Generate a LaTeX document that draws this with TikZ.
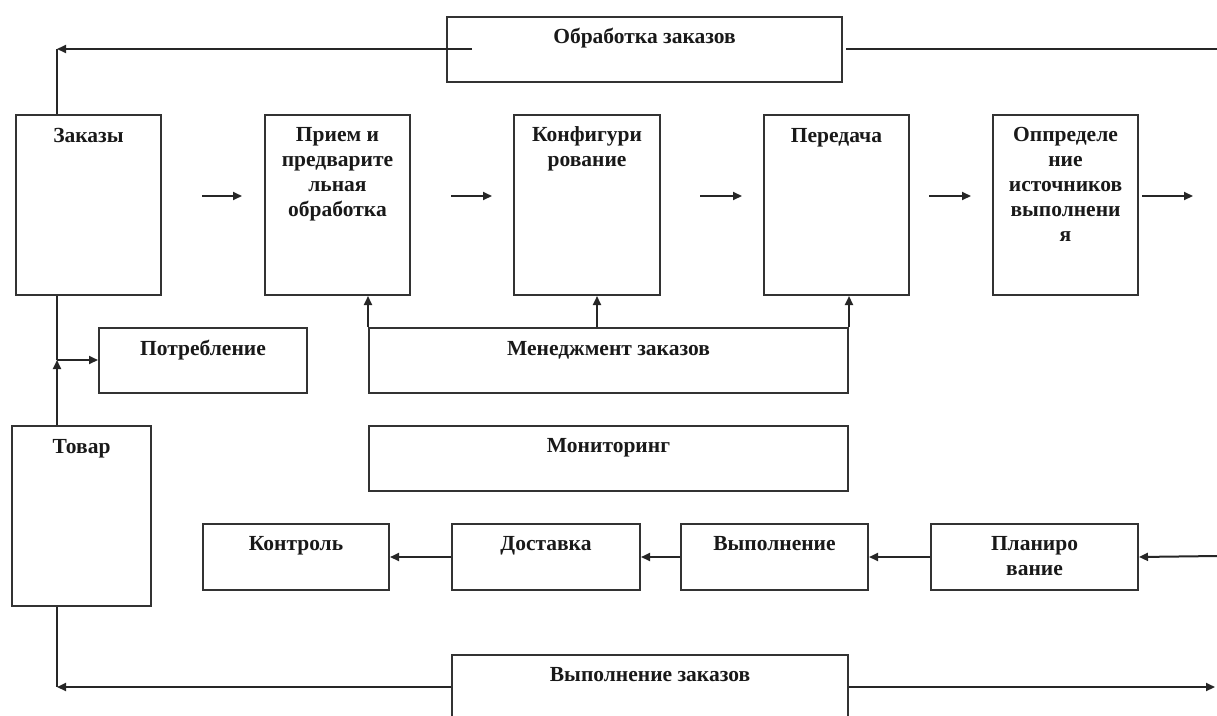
\documentclass[tikz,border=0pt]{standalone}
\usepackage{fontspec}
\setmainfont{Liberation Serif}
\usetikzlibrary{arrows.meta,calc}
\begin{document}
\begin{tikzpicture}[x=1pt,y=-1pt,
  box/.style={draw=black!80, line width=2pt, rectangle, inner sep=0pt, anchor=north west},
  lbl/.style={anchor=north, inner sep=0pt, align=center, text=black!90,
    font=\fontsize{21.5}{25}\selectfont\bfseries},
  conn/.style={draw=black!85, line width=2pt},
  arr/.style={conn, -{Triangle[length=9pt,width=8pt]}}]
\useasboundingbox (0,0) rectangle (1217,715);
\clip (0,0) rectangle (1217,715);
% boxes
\node[box, minimum width=395, minimum height=65] (obr) at (446,16) {};
\node[box, minimum width=145, minimum height=180] (zak) at (15,114) {};
\node[box, minimum width=145, minimum height=180] (prm) at (264,114) {};
\node[box, minimum width=146, minimum height=180] (kon) at (513,114) {};
\node[box, minimum width=145, minimum height=180] (per) at (763,114) {};
\node[box, minimum width=145, minimum height=180] (opr) at (992,114) {};
\node[box, minimum width=208, minimum height=65] (pot) at (98,327) {};
\node[box, minimum width=479, minimum height=65] (men) at (368,327) {};
\node[box, minimum width=139, minimum height=180] (tov) at (11,425) {};
\node[box, minimum width=479, minimum height=65] (mon) at (368,425) {};
\node[box, minimum width=186, minimum height=66] (ktr) at (202,523) {};
\node[box, minimum width=188, minimum height=66] (dos) at (451,523) {};
\node[box, minimum width=187, minimum height=66] (vyp) at (680,523) {};
\node[box, minimum width=207, minimum height=66] (pln) at (930,523) {};
\node[box, minimum width=396, minimum height=90] (vz) at (451,654) {};
% labels
\node[lbl] (t-obr) at ([yshift=-9.5pt]obr.north) {\strut Обработка заказов};
\node[lbl] (t-zak) at ([yshift=-11pt]zak.north) {\strut Заказы};
\node[lbl] (t-prm) at ([yshift=-10pt]prm.north) {\strut Прием и\\предварите\\льная\\обработка};
\node[lbl] (t-kon) at ([yshift=-10pt]kon.north) {\strut Конфигури\\рование};
\node[lbl] (t-per) at ([yshift=-11pt]per.north) {\strut Передача};
\node[lbl] (t-opr) at ([yshift=-10pt]opr.north) {\strut Оппределе\\ние\\источников\\выполнени\\я};
\node[lbl] (t-pot) at ([yshift=-10.5pt]pot.north) {\strut Потребление};
\node[lbl] (t-men) at ([yshift=-10.5pt]men.north) {\strut Менеджмент заказов};
\node[lbl] (t-tov) at ([yshift=-10.5pt]tov.north) {\strut Товар};
\node[lbl] (t-mon) at ([yshift=-9.5pt]mon.north) {\strut Мониторинг};
\node[lbl] (t-ktr) at ([yshift=-10pt]ktr.north) {\strut Контроль};
\node[lbl] (t-dos) at ([yshift=-10pt]dos.north) {\strut Доставка};
\node[lbl] (t-vyp) at ([yshift=-10pt]vyp.north) {\strut Выполнение};
\node[lbl] (t-pln) at ([yshift=-10pt]pln.north) {\strut Планиро\\вание};
\node[lbl] (t-vz) at ([yshift=-10pt]vz.north) {\strut Выполнение заказов};
% coordinates
\coordinate (obrL) at (472,49);
\coordinate (cTL) at (57,49);
\coordinate (obrR) at (846,49);
\coordinate (eTR) at (1217,49);
\coordinate (a1s) at (202,196); \coordinate (a1e) at (242,196);
\coordinate (a2s) at (451,196); \coordinate (a2e) at (492,196);
\coordinate (a3s) at (700,196); \coordinate (a3e) at (742,196);
\coordinate (a4s) at (929,196); \coordinate (a4e) at (971,196);
\coordinate (a5s) at (1142,196); \coordinate (a5e) at (1193,196);
\coordinate (mk) at (597,327);
\coordinate (j) at (57,360);
\coordinate (eR) at (1217,556);
\coordinate (cb) at (57,687);
\coordinate (eBR) at (1215,687);
% connectors
\draw[arr] (obrL) -- (cTL);
\draw[conn] (cTL) -- (cTL |- zak.north);
\draw[conn] (obrR) -- (eTR);
\draw[arr] (a1s) -- (a1e);
\draw[arr] (a2s) -- (a2e);
\draw[arr] (a3s) -- (a3e);
\draw[arr] (a4s) -- (a4e);
\draw[arr] (a5s) -- (a5e);
\draw[arr] (men.north west) -- (men.north west |- prm.south);
\draw[arr] (mk) -- (mk |- kon.south);
\draw[arr] (men.north east) -- (men.north east |- per.south);
\draw[arr] (j |- tov.north) -- (j);
\draw[conn] (j) -- (j |- zak.south);
\draw[arr] (j) -- (j -| pot.west);
\draw[arr] (dos.west) -- (ktr.east);
\draw[arr] (vyp.west) -- (dos.east);
\draw[arr] (pln.west) -- (vyp.east);
\draw[arr] (eR) -- (pln.east);
\draw[conn] (cb |- tov.south) -- (cb);
\draw[arr] (cb -| vz.west) -- (cb);
\draw[arr] (cb -| vz.east) -- (eBR);
\end{tikzpicture}
\end{document}
